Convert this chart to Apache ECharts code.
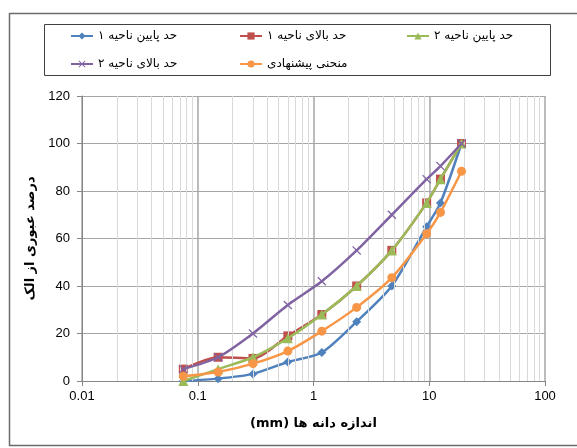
<!DOCTYPE html>
<html>
<head>
<meta charset="utf-8">
<script src="https://cdn.jsdelivr.net/npm/echarts@6/dist/echarts.min.js"></script>
<style>html,body{margin:0;padding:0;background:#fff;}#c{width:577px;height:448px;}</style>
</head>
<body>
<div id="c"></div>
<script>
const sieveSizes = [0.075, 0.15, 0.3, 0.6, 1.18, 2.36, 4.75, 9.5, 12.5, 19];
const lower1 = [0, 1, 3, 8, 12, 25, 40, 65, 75, 100];
const upper1 = [5, 10, 9.5, 19, 28, 40, 55, 75, 85, 100];
const lower2 = [0, 5, 10, 18, 28, 40, 55, 75, 85, 100];
const upper2 = [5, 10, 20, 32, 42, 55, 70, 85, 90.5, 100];
const proposed = [2, 3.8, 7.3, 12.6, 21, 31, 43.5, 62, 71, 88.3];
const seriesNames = ['حد پایین ناحیه ۱', 'حد بالای ناحیه ۱', 'حد پایین ناحیه ۲', 'حد بالای ناحیه ۲', 'منحنی پیشنهادی'];
const xTickLabels = ['0.01', '0.1', '1', '10', '100'];
const yTicks = [0, 20, 40, 60, 80, 100, 120];
const xTitle = '(mm) اندازه دانه ها';
const yTitle = 'درصد عبوری از الک';

const colors = ['#4F81BD', '#C0504D', '#9BBB59', '#8064A2', '#F79646'];
const symbols = ['diamond', 'rect', 'triangle',
  'path://M0,1L1,0L5,4L9,0L10,1L6,5L10,9L9,10L5,6L1,10L0,9L4,5Z', 'circle'];
const symbolSizes = [9, 9, 10, 9, 9];
const values = [lower1, upper1, lower2, upper2, proposed];

const minorX = [];
for (let e = -2; e < 2; e++) {
  for (let m = 2; m <= 9; m++) minorX.push({ xAxis: +(m * Math.pow(10, e)).toPrecision(3) });
}

const chart = echarts.init(document.getElementById('c'));
const series = [{
  type: 'line', name: '_grid', data: [], z: 1, silent: true,
  markLine: {
    silent: true, symbol: 'none', label: { show: false },
    lineStyle: { color: '#d9d9d9', width: 1, type: 'solid' },
    emphasis: { disabled: true },
    animation: false,
    data: minorX
  }
}];
values.forEach((vals, i) => {
  series.push({
    type: 'line', name: seriesNames[i], z: 3 + i,
    data: sieveSizes.map((s, j) => [s, vals[j]]),
    smooth: 0.25,
    symbol: symbols[i], symbolSize: symbolSizes[i],
    lineStyle: { color: colors[i], width: 2.5 },
    itemStyle: { color: colors[i] },
    animation: false
  });
});

const legendText = { fontFamily: 'DejaVu Sans', fontSize: 12, color: '#000' };
function mkLegend(names, left) {
  return {
    data: names, left: left, top: 30, orient: 'vertical', itemGap: 16,
    itemWidth: 22, itemHeight: 9, textStyle: legendText, selectedMode: false, padding: 0
  };
}

chart.setOption({
  animation: false,
  backgroundColor: '#fff',
  grid: { left: 82, right: 32, top: 96, bottom: 67 },
  legend: [
    mkLegend([seriesNames[0], seriesNames[3]], 70),
    mkLegend([seriesNames[1], seriesNames[4]], 239),
    mkLegend([seriesNames[2]], 406)
  ],
  graphic: [
    { type: 'rect', shape: { x: 9.5, y: 13.5, width: 590, height: 432 }, style: { fill: 'none', stroke: '#6b6b6b', lineWidth: 1.5 }, silent: true },
    { type: 'rect', shape: { x: 44.5, y: 24.5, width: 506, height: 51 }, style: { fill: 'none', stroke: '#404040', lineWidth: 1 }, silent: true }
  ],
  xAxis: {
    type: 'log', logBase: 10, min: 0.01, max: 100,
    name: xTitle, nameLocation: 'middle', nameGap: 36,
    nameTextStyle: { fontFamily: 'DejaVu Sans', fontWeight: 'bold', fontSize: 13, color: '#000' },
    axisLine: { show: true, onZero: false, lineStyle: { color: '#868686', width: 1 } },
    axisTick: { show: true, length: 5, lineStyle: { color: '#868686' } },
    axisLabel: { fontFamily: 'Liberation Sans', fontSize: 13, color: '#000', margin: 9,
      formatter: (v, i) => xTickLabels[i] },
    splitLine: { show: true, lineStyle: { color: '#a6a6a6', width: 1.5 } }
  },
  yAxis: {
    type: 'value', min: 0, max: 120, interval: 20,
    name: yTitle, nameLocation: 'middle', nameGap: 44, nameRotate: 90,
    nameTextStyle: { fontFamily: 'DejaVu Sans', fontWeight: 'bold', fontSize: 13, color: '#000' },
    axisLine: { show: true, lineStyle: { color: '#868686', width: 1 } },
    axisTick: { show: true, length: 5, lineStyle: { color: '#868686' } },
    axisLabel: { fontFamily: 'Liberation Sans', fontSize: 13, color: '#000', margin: 12,
      formatter: v => String(yTicks[yTicks.indexOf(v)]) },
    splitLine: { show: true, lineStyle: { color: '#a6a6a6', width: 1 } }
  },
  series: series
});
</script>
</body>
</html>
